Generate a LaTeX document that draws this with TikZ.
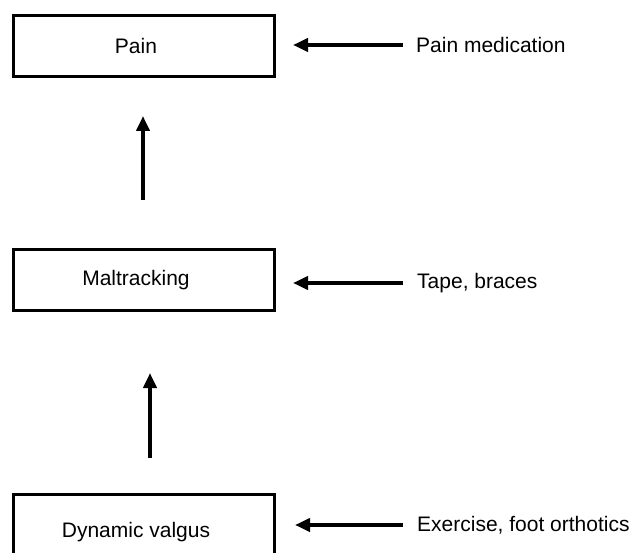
\documentclass[tikz,border=0pt]{standalone}
\usepackage{fontspec}
\setmainfont{Liberation Sans}
\usetikzlibrary{arrows.meta}

\tikzset{
	stage/.style={draw, line width=3pt, minimum width=261pt, minimum height=61pt, inner sep=0pt},
	remedy/.style={anchor=west, inner sep=0pt},
	thick arrow/.style={line width=4pt, -{Triangle[length=15pt,width=13pt]}}
}

\begin{document}
\begin{tikzpicture}[x=1pt, y=-1pt, font=\fontsize{21}{25}\selectfont]
		\useasboundingbox (0,0) rectangle (632,553);

		\node[stage] (pain) at (144, 46) {Pain\hspace*{16pt}};
		\node[stage] (maltrack) at (144, 280) {Maltracking\hspace*{16pt}};
		\node[stage] (valgus) at (144, 525) {\raisebox{-12pt}[0pt][0pt]{Dynamic valgus}\hspace*{16pt}};

		\node[remedy] (medication) at (416, 45) {Pain medication};
		\node[remedy] (tape) at (417, 283) {Tape, braces};
		\node[remedy] (exercise) at (417, 525) {Exercise, foot orthotics};

		\draw[thick arrow, shorten <=48pt, shorten >=38pt] ([xshift=-1pt]maltrack.north) -- ([xshift=-1pt]pain.south);
		\draw[thick arrow, shorten <=35pt, shorten >=61pt] ([xshift=6pt]valgus.north) -- ([xshift=6pt]maltrack.south);

		\draw[thick arrow, shorten <=13pt, shorten >=17pt] (medication.west) -- (medication.west -| pain.east);
		\draw[thick arrow, shorten <=14pt, shorten >=17pt] (tape.west) -- (tape.west -| maltrack.east);
		\draw[thick arrow, shorten <=14pt, shorten >=19pt] (exercise.west) -- (exercise.west -| valgus.east);
	\end{tikzpicture}
\end{document}
